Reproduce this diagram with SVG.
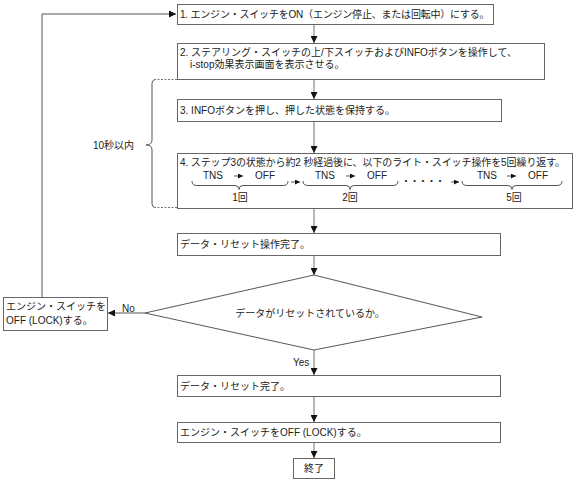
<svg xmlns="http://www.w3.org/2000/svg" width="585" height="483" viewBox="0 0 585 483">
<style>
text{font-family:"Liberation Sans","Noto Sans CJK JP",sans-serif;font-size:10px;fill:#222}
.box{fill:#fff;stroke:#666;stroke-width:1}
.conn{stroke:#999;stroke-width:1.4;fill:none}
.fb{stroke:#555;stroke-width:1;fill:none}
.br{stroke:#444;stroke-width:0.9;fill:none}
.dash{stroke:#666;stroke-width:0.9;stroke-dasharray:2,1.5;fill:none}
.mid{text-anchor:middle}
</style>
<defs>
<marker id="ah" viewBox="0 0 8 8" refX="8" refY="4" markerWidth="7" markerHeight="7" markerUnits="userSpaceOnUse" orient="auto">
<path d="M0,0 L8,4 L0,8 Z" fill="#111"/>
</marker>
<marker id="ahs" viewBox="0 0 8 8" refX="8" refY="4" markerWidth="5" markerHeight="5" markerUnits="userSpaceOnUse" orient="auto">
<path d="M0,0 L8,4 L0,8 Z" fill="#111"/>
</marker>
</defs>
<g id="connectors">
<path class="fb" d="M42,297 V14 H176" marker-end="url(#ah)"/>
<path class="conn" d="M314,24 V43" marker-end="url(#ah)"/>
<path class="conn" d="M314,79 V99" marker-end="url(#ah)"/>
<path class="conn" d="M314,121 V153" marker-end="url(#ah)"/>
<path class="conn" d="M314,208 V233" marker-end="url(#ah)"/>
<path class="conn" d="M314,255 V275" marker-end="url(#ah)"/>
<path class="conn" d="M314,350 V375" marker-end="url(#ah)"/>
<path class="conn" d="M314,396 V422" marker-end="url(#ah)"/>
<path class="conn" d="M314,442 V458" marker-end="url(#ah)"/>
<path class="fb" d="M145,313 H108" marker-end="url(#ah)"/>
<text x="122" y="312">No</text>
<text x="293" y="366">Yes</text>
</g>
<g id="n1">
<rect class="box" x="177.5" y="4.5" width="316" height="20"/>
<text x="180" y="18" style="letter-spacing:-0.2px">1. エンジン・スイッチをON（エンジン停止、または回転中）にする。</text>
</g>
<g id="n2">
<rect class="box" x="177.5" y="43.5" width="367" height="36"/>
<text x="180" y="56">2. ステアリング・スイッチの上/下スイッチおよびINFOボタンを操作して、</text>
<text x="190" y="68">i-stop効果表示画面を表示させる。</text>
</g>
<g id="bracket">
<path class="dash" d="M177,79.5 H156"/>
<path class="dash" d="M177,207.5 H156"/>
<path class="br" d="M156,79.5 Q152,79.5 152,84 V140 Q152,145 146,145 Q152,145 152,150 V203 Q152,207.5 156,207.5"/>
<text x="93" y="149">10秒以内</text>
</g>
<g id="n4">
<rect class="box" x="177.5" y="153.5" width="395" height="55"/>
<text x="180" y="166" style="letter-spacing:-0.1px">4. ステップ3の状態から約2 秒経過後に、以下のライト・スイッチ操作を5回繰り返す。</text>
<text class="mid" x="213" y="179">TNS</text>
<path class="br" d="M234,176 H243" marker-end="url(#ahs)"/>
<text class="mid" x="265" y="179">OFF</text>
<path class="br" d="M192,181 Q192,185.5 197,185.5 H235 Q239,185.5 239,189.5 Q239,185.5 243,185.5 H283 Q288,185.5 288,181"/>
<text class="mid" x="240" y="201">1回</text>
<path class="br" d="M291,182 H300" marker-end="url(#ahs)"/>
<text class="mid" x="325" y="179">TNS</text>
<path class="br" d="M346,176 H355" marker-end="url(#ahs)"/>
<text class="mid" x="377" y="179">OFF</text>
<path class="br" d="M303,181 Q303,185.5 308,185.5 H346 Q350,185.5 350,189.5 Q350,185.5 354,185.5 H393 Q398,185.5 398,181"/>
<text class="mid" x="350" y="201">2回</text>
<text x="401" y="185" style="letter-spacing:-1.5px">・・・・・</text>
<path class="br" d="M451,182 H459" marker-end="url(#ahs)"/>
<text class="mid" x="487" y="179">TNS</text>
<path class="br" d="M507,176 H516" marker-end="url(#ahs)"/>
<text class="mid" x="538" y="179">OFF</text>
<path class="br" d="M462,181 Q462,185.5 467,185.5 H508 Q512,185.5 512,189.5 Q512,185.5 516,185.5 H557 Q562,185.5 562,181"/>
<text class="mid" x="514" y="201">5回</text>
</g>
<g id="n3">
<rect class="box" x="177.5" y="99.5" width="324" height="22"/>
<text x="180" y="114">3. INFOボタンを押し、押した状態を保持する。</text>
</g>
<g id="n5">
<rect class="box" x="177.5" y="233.5" width="323" height="22"/>
<text x="180" y="248">データ・リセット操作完了。</text>
</g>
<g id="d1">
<polygon class="box" points="314,275 482,317 314,350 145,313" style="stroke:#444;stroke-width:0.9"/>
<text class="mid" x="310" y="317">データがリセットされているか。</text>
</g>
<g id="n6">
<rect class="box" x="3.5" y="297.5" width="104" height="33"/>
<text x="6" y="310">エンジン・スイッチを</text>
<text x="6" y="324">OFF (LOCK)する。</text>
</g>
<g id="n7">
<rect class="box" x="177.5" y="375.5" width="323" height="21"/>
<text x="180" y="390">データ・リセット完了。</text>
</g>
<g id="n8">
<rect class="box" x="177.5" y="422.5" width="323" height="20"/>
<text x="180" y="436">エンジン・スイッチをOFF (LOCK)する。</text>
</g>
<g id="n9">
<rect class="box" x="293.5" y="458.5" width="41" height="20"/>
<text class="mid" x="314" y="472">終了</text>
</g>
</svg>
